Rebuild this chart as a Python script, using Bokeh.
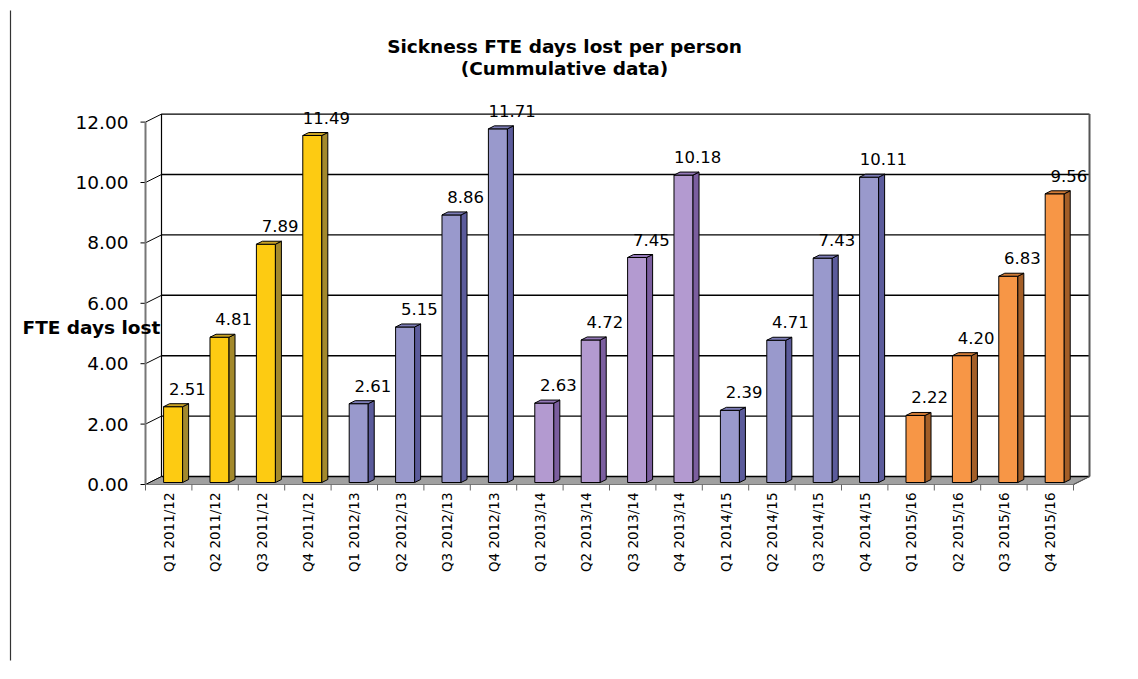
import math
from bokeh.plotting import figure
from bokeh.models import Range1d, Label
from bokeh.core.properties import value
from bokeh.embed import file_html
from bokeh.resources import INLINE

# ---- data ----
quarters = ["Q1", "Q2", "Q3", "Q4"]
years = ["2011/12", "2012/13", "2013/14", "2014/15", "2015/16"]
days_2011_12 = [2.51, 4.81, 7.89, 11.49]
days_2012_13 = [2.61, 5.15, 8.86, 11.71]
days_2013_14 = [2.63, 4.72, 7.45, 10.18]
days_2014_15 = [2.39, 4.71, 7.43, 10.11]
days_2015_16 = [2.22, 4.20, 6.83, 9.56]
y_ticks = [0, 2, 4, 6, 8, 10, 12]

# bar colours per year: (front, side, top)
year_colors = [
    ("#FDCB12", "#A3892C", "#C9A224"),
    ("#9999CC", "#5B5B9B", "#7C7CB6"),
    ("#B39AD0", "#7B5E9F", "#9479B8"),
    ("#9999CC", "#5B5B9B", "#7C7CB6"),
    ("#F79646", "#A35E27", "#CF7A36"),
]

series = [days_2011_12, days_2012_13, days_2013_14, days_2014_15, days_2015_16]
categories = [f"{q} {y}" for y in years for q in quarters]
values = [v for s in series for v in s]
colors = [year_colors[k] for k in range(len(years)) for _ in quarters]

# ---- canvas geometry ----
W, H = 1138, 679
PX_X = 46.4          # pixels per category
PX_Y = 30.2          # pixels per day
X0, Y0 = 145, 484    # pixel position of the front-left floor corner


def ux(px):
    return (px - X0) / PX_X


def uy(py):
    return (Y0 - py) / PX_Y


p = figure(width=W, height=H, output_backend="svg", toolbar_location=None,
           x_range=Range1d(ux(0), ux(W)), y_range=Range1d(uy(H), uy(0)),
           min_border=0, outline_line_color=None)
p.axis.visible = False
p.grid.visible = False
p.background_fill_color = "white"
p.border_fill_color = "white"

n = len(categories)
DX = 16 / PX_X       # depth of the 3-D box
DY = 8 / PX_Y
FONT = "DejaVu Sans"

# page rule on the left
p.segment(x0=[ux(10)], y0=[uy(10)], x1=[ux(10)], y1=[uy(660)],
          line_color="#333333", line_width=1.2)

# floor
p.patch(x=[0, n, n + DX, DX], y=[0, 0, DY, DY], fill_color="#A0A0A0",
        line_color="#707070", line_width=1)

# back-wall gridlines
top = y_ticks[-1]
p.segment(x0=[DX] * len(y_ticks), y0=[t + DY for t in y_ticks],
          x1=[n + DX] * len(y_ticks), y1=[t + DY for t in y_ticks],
          line_color="black", line_width=1.4)
# back-wall edges
p.segment(x0=[DX], y0=[DY], x1=[DX], y1=[top + DY], line_color="black", line_width=1.2)
p.segment(x0=[n + DX], y0=[DY], x1=[n + DX], y1=[top + DY], line_color="#555555", line_width=2)
p.segment(x0=[n], y0=[0], x1=[n + DX], y1=[DY], line_color="#555555", line_width=1.2)

# side-wall diagonals and tick marks
p.segment(x0=[0] * len(y_ticks), y0=y_ticks, x1=[DX] * len(y_ticks),
          y1=[t + DY for t in y_ticks], line_color="black", line_width=1)
p.segment(x0=[ux(140)] * len(y_ticks), y0=y_ticks, x1=[0] * len(y_ticks), y1=y_ticks,
          line_color="black", line_width=1)
p.segment(x0=[0], y0=[0], x1=[0], y1=[top], line_color="#777777", line_width=2)
p.segment(x0=[0], y0=[0], x1=[n], y1=[0], line_color="#777777", line_width=1.2)

# category tick marks
p.segment(x0=list(range(n + 1)), y0=[0] * (n + 1), x1=list(range(n + 1)),
          y1=[-6 / PX_Y] * (n + 1), line_color="#666666", line_width=1)

# 3-D columns
BASE = 2 / PX_Y
L_OFF, R_OFF = 0.39, 0.80
SX, SY = 6 / PX_X, 3 / PX_Y
lefts = [i + L_OFF for i in range(n)]
rights = [i + R_OFF for i in range(n)]
tops = [BASE + v for v in values]

p.quad(left=lefts, right=rights, bottom=[BASE] * n, top=tops,
       fill_color=[c[0] for c in colors], line_color="black", line_width=1)
p.patches(xs=[[r, r + SX, r + SX, r] for r in rights],
          ys=[[BASE, BASE + SY, t + SY, t] for t in tops],
          fill_color=[c[1] for c in colors], line_color="black", line_width=1)
p.patches(xs=[[l, l + SX, r + SX, r] for l, r in zip(lefts, rights)],
          ys=[[t, t + SY, t + SY, t] for t in tops],
          fill_color=[c[2] for c in colors], line_color="black", line_width=1)

# value labels
p.text(x=[i + 0.9 for i in range(n)], y=[t + 18 / PX_Y for t in tops],
       text=[f"{v:.2f}" for v in values], text_align="center", text_baseline="middle",
       text_font=value(FONT), text_font_size="16.5px", text_color="black")

# y tick labels
p.text(x=[ux(128)] * len(y_ticks), y=y_ticks, text=[f"{t:.2f}" for t in y_ticks],
       text_align="right", text_baseline="middle", text_font=value(FONT),
       text_font_size="18.5px", text_color="black")

# category labels (rotated)
p.text(x=[i + 0.5 for i in range(n)], y=[uy(492)] * n, text=categories,
       angle=math.pi / 2, text_align="right", text_baseline="middle",
       text_font=value(FONT), text_font_size="13.5px", text_color="black")

# titles
for txt, py in [("Sickness FTE days lost per person", 46), ("(Cummulative data)", 68)]:
    p.add_layout(Label(x=ux(564), y=uy(py), text=txt, text_align="center",
                       text_baseline="middle", text_font=FONT, text_font_size="18.5px",
                       text_font_style="bold", text_color="black"))
p.add_layout(Label(x=ux(22), y=uy(327), text="FTE days lost", text_align="left",
                   text_baseline="middle", text_font=FONT, text_font_size="18.5px",
                   text_font_style="bold", text_color="black"))

open("out.html", "w").write(file_html(p, INLINE))
